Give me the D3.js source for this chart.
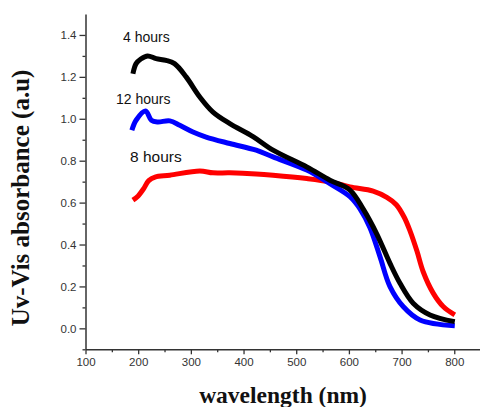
<!DOCTYPE html>
<html>
<head>
<meta charset="utf-8">
<script src="https://cdn.jsdelivr.net/npm/d3@7"></script>
<style>
  body { margin: 0; background: #fff; }
  svg { display: block; }
  .tick text { font-family: "Liberation Sans", Arial, sans-serif; font-size: 11.5px; fill: #333; }
</style>
</head>
<body>
<script>
// 4 hours (black)
const wl4 = [190, 196, 205, 218, 234, 253, 269, 291, 317, 342, 374, 418, 456, 520, 564, 602, 627, 653, 678, 697, 722, 754, 801];
const abs4 = [1.215, 1.263, 1.285, 1.30, 1.287, 1.279, 1.263, 1.20, 1.104, 1.032, 0.977, 0.915, 0.85, 0.77, 0.707, 0.66, 0.57, 0.45, 0.31, 0.215, 0.12, 0.064, 0.032];
// 12 hours (blue)
const wl12 = [188, 196, 214, 225, 237, 260, 279, 304, 329, 374, 424, 456, 520, 564, 602, 621, 640, 659, 678, 703, 735, 801];
const abs12 = [0.945, 0.993, 1.037, 0.993, 0.985, 0.99, 0.969, 0.937, 0.913, 0.882, 0.85, 0.818, 0.755, 0.69, 0.628, 0.57, 0.48, 0.342, 0.199, 0.104, 0.04, 0.012];
// 8 hours (red)
const wl8 = [190, 200, 210, 220, 232, 260, 317, 342, 374, 424, 456, 520, 564, 602, 646, 672, 690, 705, 716, 729, 741, 760, 779, 801];
const abs8 = [0.612, 0.632, 0.665, 0.705, 0.722, 0.731, 0.751, 0.742, 0.742, 0.737, 0.731, 0.715, 0.699, 0.675, 0.655, 0.625, 0.59, 0.53, 0.465, 0.37, 0.27, 0.168, 0.104, 0.064];

const xTicks = [100, 200, 300, 400, 500, 600, 700, 800];
const yTicks = [0.0, 0.2, 0.4, 0.6, 0.8, 1.0, 1.2, 1.4];

const width = 480, height = 407;

const x = d3.scaleLinear().domain([100, 850]).range([85.5, 480.6]);
const y = d3.scaleLinear().domain([-0.1, 1.5]).range([349.3, 14]);

const svg = d3.select("body").append("svg")
    .attr("width", width)
    .attr("height", height);

// minor ticks
svg.append("g")
    .attr("transform", "translate(0,349.3)")
    .call(d3.axisBottom(x).tickValues(d3.range(150, 850, 100)).tickSize(3).tickFormat(""))
    .call(g => g.select(".domain").remove())
    .selectAll("line").attr("stroke", "#333").attr("stroke-width", 1.3);
svg.append("g")
    .attr("transform", "translate(85.5,0)")
    .call(d3.axisLeft(y).tickValues(d3.range(-0.1, 1.5, 0.2)).tickSize(3).tickFormat(""))
    .call(g => g.select(".domain").remove())
    .selectAll("line").attr("stroke", "#333").attr("stroke-width", 1.3);

const xAxis = svg.append("g")
    .attr("transform", "translate(0,349.3)")
    .call(d3.axisBottom(x).tickValues(xTicks).tickSize(5).tickSizeOuter(0).tickPadding(4));
const yAxis = svg.append("g")
    .attr("transform", "translate(85.5,0)")
    .call(d3.axisLeft(y).tickValues(yTicks).tickSize(6).tickSizeOuter(0).tickPadding(3).tickFormat(d3.format(".1f")));

[xAxis, yAxis].forEach(g => {
    g.select(".domain").attr("stroke", "#333").attr("stroke-width", 1.5);
    g.selectAll(".tick line").attr("stroke", "#333").attr("stroke-width", 1.3);
});

const line = d3.line()
    .x(d => x(d[0]))
    .y(d => y(d[1]))
    .curve(d3.curveCatmullRom.alpha(0.5));

const series = [
    { wl: wl8, abs: abs8, color: "#ff0000" },
    { wl: wl12, abs: abs12, color: "#0000ff" },
    { wl: wl4, abs: abs4, color: "#000000" }
];

series.forEach(s => {
    svg.append("path")
        .datum(d3.zip(s.wl, s.abs))
        .attr("fill", "none")
        .attr("stroke", s.color)
        .attr("stroke-width", 5)
        .attr("stroke-linejoin", "round")
        .attr("d", line);
});

// curve labels
const labels = [
    { text: "4 hours", x: 123, y: 42, size: 14 },
    { text: "12 hours", x: 116, y: 104, size: 14 },
    { text: "8 hours", x: 130, y: 162, size: 15.5 }
];
svg.selectAll("text.lbl")
    .data(labels)
    .enter().append("text")
    .attr("class", "lbl")
    .attr("x", d => d.x)
    .attr("y", d => d.y)
    .attr("font-family", "Liberation Sans, Arial, sans-serif")
    .attr("font-size", d => d.size)
    .attr("fill", "#111")
    .text(d => d.text);

// axis titles
svg.append("text")
    .attr("transform", "translate(29,198) rotate(-90)")
    .attr("text-anchor", "middle")
    .attr("font-family", "Liberation Serif, Times New Roman, serif")
    .attr("font-weight", "bold")
    .attr("font-size", 25)
    .attr("fill", "#111")
    .text("Uv-Vis absorbance (a.u)");

svg.append("text")
    .attr("x", 283)
    .attr("y", 403)
    .attr("text-anchor", "middle")
    .attr("font-family", "Liberation Serif, Times New Roman, serif")
    .attr("font-weight", "bold")
    .attr("font-size", 23.5)
    .attr("fill", "#111")
    .text("wavelength (nm)");
</script>
</body>
</html>
